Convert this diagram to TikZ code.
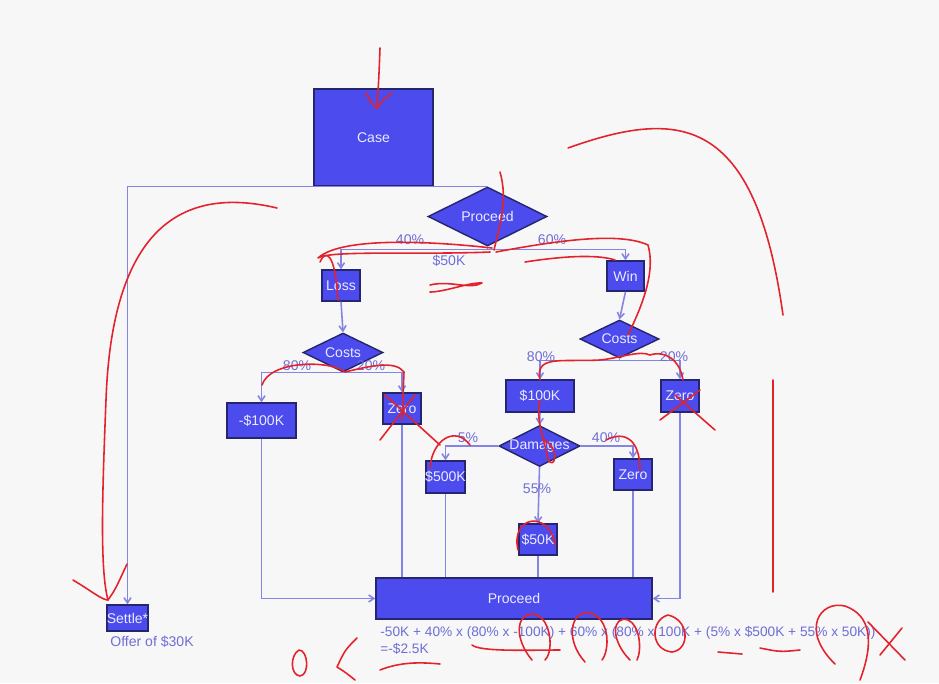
\documentclass[tikz,border=0pt]{standalone}
\usepackage{fontspec}
\setmainfont{Liberation Sans}
\usepackage{xcolor}
\usetikzlibrary{shapes.geometric,arrows.meta,positioning,calc}
\definecolor{nodeblue}{HTML}{4B4BEE}
\definecolor{edgeblue}{HTML}{252570}
\definecolor{linkblue}{HTML}{8484E2}
\definecolor{lblblue}{HTML}{6E6ED6}
\definecolor{inkred}{HTML}{E3222B}
\newcommand{\ctr}[1]{\makebox[0pt]{#1}}
\tikzset{
  box/.style={draw=edgeblue, fill=nodeblue, text=white!92!blue, inner sep=0pt, line width=0.8pt},
  dia/.style={diamond, draw=edgeblue, fill=nodeblue, text=white!92!blue, inner sep=0pt, line width=0.8pt},
  link/.style={draw=linkblue, line width=0.9pt},
  arr/.style={link, -{Straight Barb[length=3pt,width=4pt]}},
  lbl/.style={text=lblblue, inner sep=0pt},
  ink/.style={draw=inkred, line width=0.9pt, line cap=round, line join=round}
}
\begin{document}
\begin{tikzpicture}[x=0.02cm, y=-0.02cm, font=\fontsize{8}{9.6}\selectfont]
    \fill[white!97!black] (0,0) rectangle (939,683);
    \useasboundingbox (0,0) rectangle (939,683);
    % top of the tree
    \node[box, minimum width=2.38cm, minimum height=1.94cm] (case) at (373.5,137.5) {Case};
    \node[dia, minimum width=2.38cm, minimum height=1.18cm] (proceed) at (487.5,216.5) {\ctr{Proceed}};
    \node[box, minimum width=0.82cm, minimum height=0.52cm] (settle) at (127.5,618) {\ctr{Settle*}};
    \node[lbl, anchor=north] (offer) at (152,636) {Offer of \$30K};
    % loss branch
    \node[box, minimum width=0.76cm, minimum height=0.62cm] (loss) at (341,285.5) {\ctr{Loss}};
    \node[dia, minimum width=1.6cm, minimum height=0.78cm] (costsL) at (343,352.5) {\ctr{Costs}};
    \node[box, minimum width=1.38cm, minimum height=0.7cm] (m100) at (261.5,420.5) {\ctr{-\$100K}};
    \node[box, minimum width=0.76cm, minimum height=0.62cm] (zeroL) at (402,408.5) {\ctr{Zero}};
    % win branch
    \node[box, minimum width=0.74cm, minimum height=0.6cm] (win) at (625.5,276) {\ctr{Win}};
    \node[dia, minimum width=1.58cm, minimum height=0.76cm] (costsR) at (619.5,339) {\ctr{Costs}};
    \node[box, minimum width=1.36cm, minimum height=0.64cm] (p100) at (540,396) {\ctr{\$100K}};
    \node[box, minimum width=0.76cm, minimum height=0.64cm] (zeroR) at (680,396) {\ctr{Zero}};
    \node[dia, minimum width=1.62cm, minimum height=0.82cm] (damages) at (539.5,446) {\ctr{Damages}};
    \node[box, minimum width=0.78cm, minimum height=0.64cm] (p500) at (445.5,477) {\ctr{\$500K}};
    \node[box, minimum width=0.76cm, minimum height=0.62cm] (zeroD) at (633,474.5) {\ctr{Zero}};
    \node[box, minimum width=0.76cm, minimum height=0.62cm] (p50) at (538,539.5) {\ctr{\$50K}};
    % bottom
    \node[box, minimum width=5.52cm, minimum height=0.82cm] (final) at (514,598.5) {Proceed};
    \node[lbl, anchor=north west, align=left, font=\fontsize{7.8}{9.4}\selectfont] (calc) at (380,626) {-50K + 40\% x (80\% x -100K) + 60\% x (80\% x 100K + (5\% x \$500K + 55\% x 50K))\\=-\$2.5K};

    % connectors
    \draw[arr] (proceed.north) -| (settle.north);
    \draw[arr] (proceed.south) -- ++(0,3) -| (loss.north);
    \draw[arr] (proceed.south) -- ++(0,3) -| (win.north);
    \draw[arr] (loss.south) -- (costsL.north);
    \draw[arr] (win.south) -- (costsR.north);
    \draw[arr] (costsL.south) -| (m100.north);
    \draw[arr] (costsL.south) -| (zeroL.north);
    \draw[arr] (costsR.south) -- ++(0,2) -| (p100.north);
    \draw[arr] (costsR.south) -- ++(0,2) -| (zeroR.north);
    \draw[arr] (p100.south) -- (damages.north);
    \draw[arr] (damages.west) -| (p500.north);
    \draw[arr] (damages.east) -| (zeroD.north);
    \draw[arr] (damages.south) -- (p50.north);
    \draw[arr] (m100.south) |- (final.west);
    \draw[arr] (zeroR.south) |- (final.east);
    \draw[link] (zeroL.south) -- (zeroL.south |- final.north);
    \draw[link] (p500.south) -- (p500.south |- final.north);
    \draw[link] (p50.south) -- (p50.south |- final.north);
    \draw[link] (zeroD.south) -- (zeroD.south |- final.north);

    % odds and values
    \node[lbl] (l40) at (410,240) {40\%};
    \node[lbl] (l60) at (552,240) {60\%};
    \node[lbl] (l50k) at (449,261) {\$50K};
    \node[lbl] (l80a) at (297,366) {80\%};
    \node[lbl] (l20a) at (371,366) {20\%};
    \node[lbl] (l80b) at (541,357) {80\%};
    \node[lbl] (l20b) at (674,357) {20\%};
    \node[lbl] (l5) at (468,438) {5\%};
    \node[lbl] (l40b) at (606,438) {40\%};
    \node[lbl] (l55) at (537,489) {55\%};

    % red pen
    \draw[ink] (380,48) .. controls (379,75) .. (377,108);
    \draw[ink] (366,93) .. controls (372,104) .. (377,108) .. controls (383,100) .. (392,93);
    \draw[ink] (500,172) .. controls (508,200) and (500,225) .. (494,250);
    \draw[ink] (277,208) .. controls (180,185) and (112,230) .. (106,400) .. controls (102,500) and (100,570) .. (108,600);
    \draw[ink] (73,580) .. controls (90,590) and (102,600) .. (108,600) .. controls (115,590) .. (127,564);
    \draw[ink] (568,148) .. controls (680,108) and (755,115) .. (783,315);
    \draw[ink] (773,380) -- (773,592);
    \draw[ink] (492,248) .. controls (420,240) and (340,238) .. (318,258) .. controls (330,250) and (420,255) .. (490,252);
    \draw[ink] (320,262) .. controls (325,250) and (335,250) .. (338,300);
    \draw[ink] (496,252) .. controls (560,240) and (620,232) .. (648,245) .. controls (655,270) and (645,300) .. (628,335);
    \draw[ink] (525,262) .. controls (570,255) and (600,255) .. (615,260);
    \draw[ink] (430,285) .. controls (450,280) and (470,290) .. (482,283) .. controls (470,282) and (445,292) .. (430,292);
    \draw[ink] (262,385) .. controls (270,360) and (330,360) .. (345,372) .. controls (370,366) and (395,360) .. (404,372) -- (402,420);
    \draw[ink] (380,440) -- (415,395);
    \draw[ink] (385,395) -- (440,445);
    \draw[ink] (430,468) .. controls (432,440) and (455,425) .. (470,445);
    \draw[ink] (540,380) .. controls (535,355) and (560,362) .. (600,360) .. controls (620,358) and (640,350) .. (650,355) .. controls (665,350) and (680,360) .. (683,380);
    \draw[ink] (660,420) -- (700,390);
    \draw[ink] (675,395) -- (715,430);
    \draw[ink] (540,400) .. controls (535,420) and (545,440) .. (548,460) .. controls (555,470) and (560,450) .. (545,440);
    \draw[ink] (518,550) .. controls (510,515) and (550,510) .. (555,545);
    \draw[ink] (606,440) .. controls (625,430) and (640,440) .. (640,470);
    % marks round the sum
    \draw[ink] (532,660) .. controls (515,640) and (515,615) .. (532,614) .. controls (550,614) and (555,650) .. (545,660);
    \draw[ink] (585,662) .. controls (565,640) and (570,610) .. (590,613) .. controls (610,618) and (610,650) .. (602,660);
    \draw[ink] (630,660) .. controls (610,640) and (612,615) .. (628,620) .. controls (640,625) and (642,650) .. (637,660);
    \draw[ink] (668,615) .. controls (650,620) and (650,650) .. (672,652) .. controls (690,650) and (690,620) .. (668,615);
    \draw[ink] (835,664) .. controls (800,630) and (820,600) .. (845,606) .. controls (870,615) and (875,640) .. (860,680);
    \draw[ink] (868,622) -- (905,660);
    \draw[ink] (902,628) -- (880,655);
    \draw[ink] (472,645) .. controls (480,652) and (530,650) .. (560,650);
    \draw[ink] (718,652) -- (742,654);
    \draw[ink] (760,648) .. controls (780,652) .. (800,650);
    \draw[ink] (380,670) .. controls (400,662) and (420,662) .. (440,664);
    \draw[ink] (299,650) .. controls (290,655) and (290,675) .. (300,676) .. controls (310,675) and (308,650) .. (299,650);
    \draw[ink] (357,638) .. controls (345,650) .. (337,667) .. controls (345,672) .. (355,680);
\end{tikzpicture}
\end{document}
